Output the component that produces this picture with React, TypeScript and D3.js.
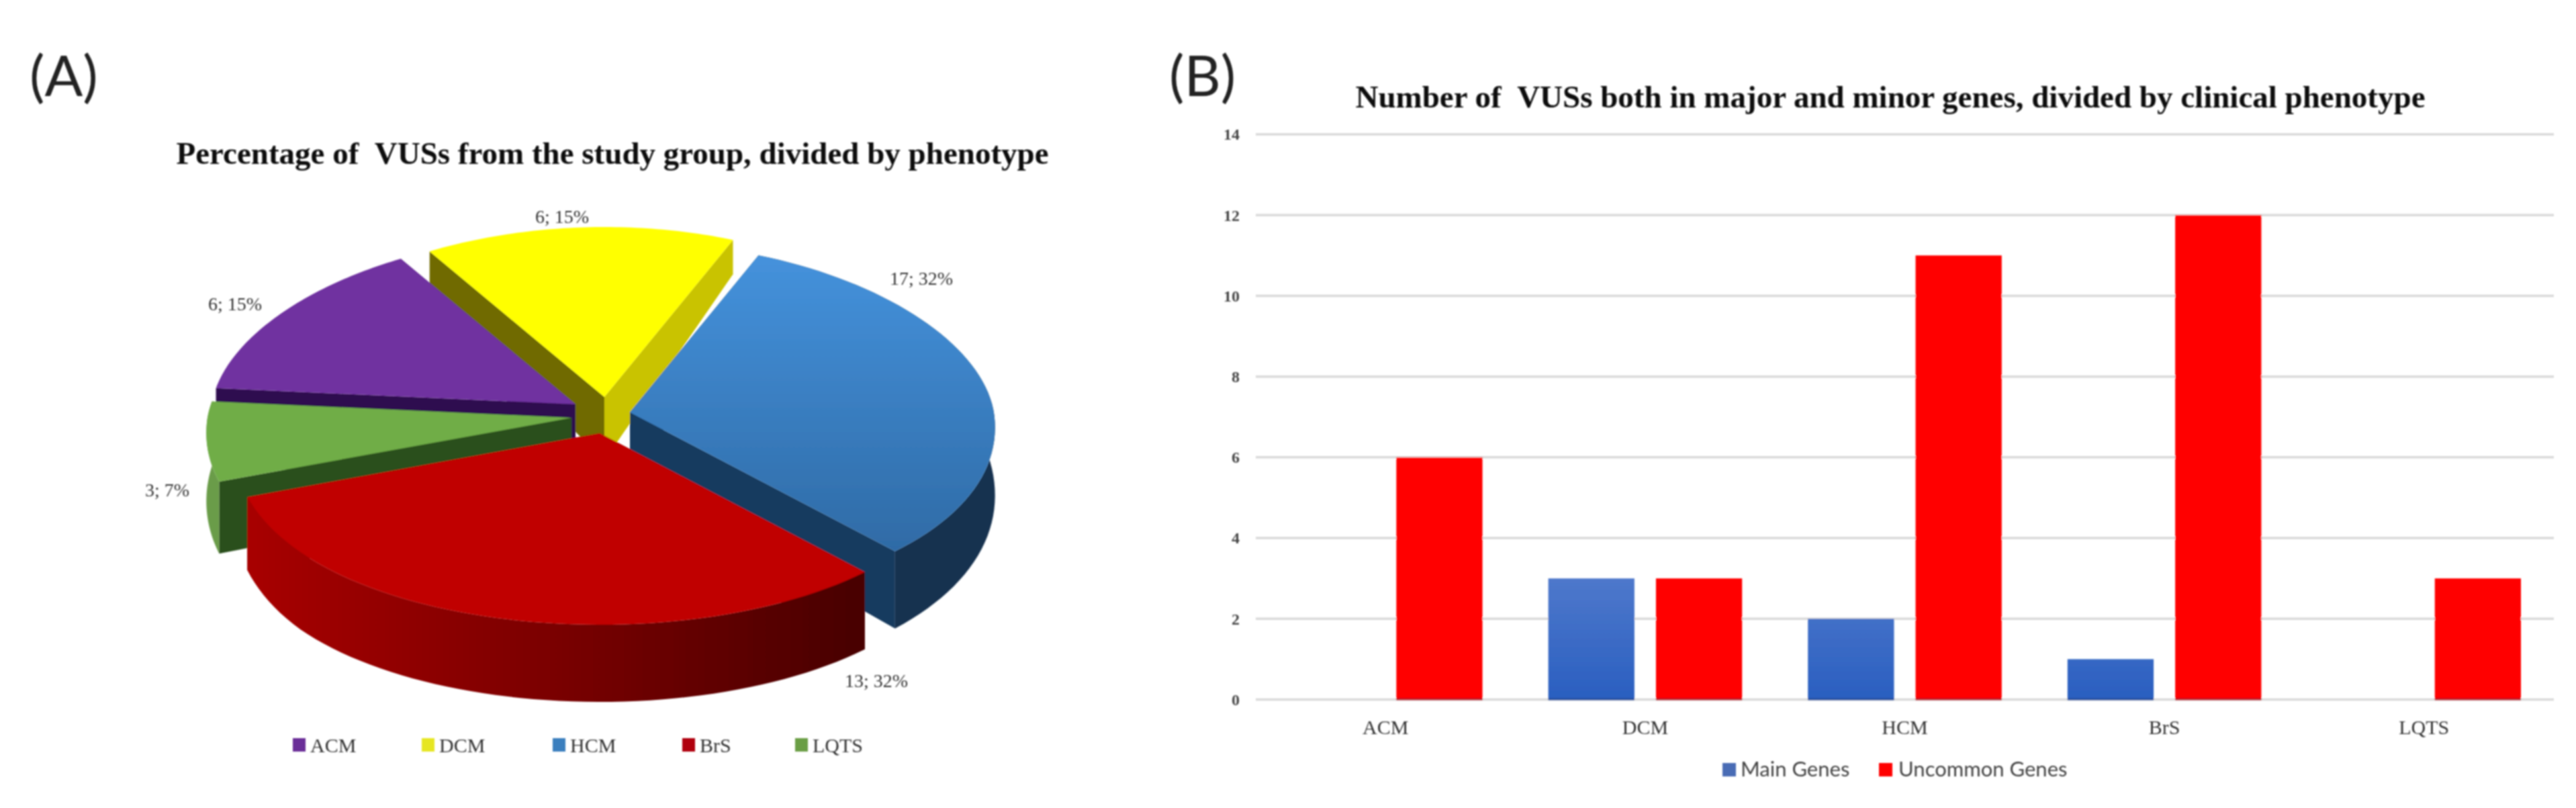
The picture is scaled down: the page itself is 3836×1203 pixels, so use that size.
import React from 'react';
import * as d3 from 'd3';

const WIDTH = 3836;
const HEIGHT = 1203;

// Panel A data
const phenotypes = ['ACM', 'DCM', 'HCM', 'BrS', 'LQTS'];
const vusCounts = [6, 6, 17, 13, 3];
const vusPercents = [15, 15, 32, 32, 7];

// Panel B data
const barCategories = ['ACM', 'DCM', 'HCM', 'BrS', 'LQTS'];
const barSeries = ['Main Genes', 'Uncommon Genes'];
const mainGenes = [0, 3, 2, 1, 0];
const uncommonGenes = [6, 3, 11, 12, 3];
const yTicks = [0, 2, 4, 6, 8, 10, 12, 14];

const serif = '"Liberation Serif", serif';
const sans = 'Lato, sans-serif';

// Look of each exploded slice, same order as phenotypes
const sliceStyle: Record<string, any> = {
  ACM: { ax: 857, ay: 602, top: '#7030a0', start: '#2f0f50', end: '#2f0f50', outer: 'none', swatch: '#6a2f98', label: [350, 452] },
  DCM: { ax: 900, ay: 591, top: '#ffff00', start: '#6f6a00', end: '#c9c300', outer: 'none', swatch: '#e6e620', label: [837, 322] },
  HCM: { ax: 938, ay: 614, top: 'url(#blueTop)', start: '#173a5e', end: '#173a5e', outer: '#17324f', swatch: '#3b7fbe', label: [1372, 414] },
  BrS: { ax: 893, ay: 645, top: '#c00000', start: '#700000', end: '#700000', outer: 'url(#redWall)', swatch: '#b00010', label: [1305, 1013] },
  LQTS: { ax: 851, ay: 622, top: '#70ad47', start: '#2a4f1f', end: '#2a4f1f', outer: '#6a9c48', swatch: '#6a9e45', label: [249, 729] }
};
const legendSwatchX = [436, 628, 823, 1016, 1184];
const drawOrder = ['DCM', 'HCM', 'ACM', 'LQTS', 'BrS'];

const RX = 542;
const RY_BACK = 253;
const RY_FRONT = 285;
const PERSPECTIVE = 0.08;

// wall gets deeper towards the viewer
const wallDepth = d3.scaleLinear().domain([340, 620, 820]).range([48, 100, 115]).clamp(true);

const slices = d3.pie<number>()
  .sort(null)
  .startAngle((-84.5 * Math.PI) / 180)
  .endAngle(((360 - 84.5) * Math.PI) / 180)(vusPercents);

const line = d3.line();

type Pt = [number, number];

const drop = (p: Pt): Pt => [p[0], p[1] + wallDepth(p[1])];

function rimPoints(name: string, a0: number, a1: number): Pt[] {
  const s = sliceStyle[name];
  return d3.range(61).map(i => {
    const a = a0 + ((a1 - a0) * i) / 60;
    const c = Math.cos(a);
    const rx = RX * (1 - PERSPECTIVE * c);
    const ry = c > 0 ? RY_BACK : RY_FRONT;
    return [s.ax + rx * Math.sin(a), s.ay - ry * c] as Pt;
  });
}

const PieSlice = ({ name, a0, a1 }: { name: string; a0: number; a1: number }) => {
  const s = sliceStyle[name];
  const apex: Pt = [s.ax, s.ay];
  const rim = rimPoints(name, a0, a1);
  const first = rim[0];
  const last = rim[rim.length - 1];
  const wall = (a: Pt, b: Pt) => line([a, b, drop(b), drop(a)]) + 'Z';
  return (
    <g>
      <path d={wall(apex, first)} fill={s.start} />
      <path d={wall(apex, last)} fill={s.end} />
      <path d={line([...rim, ...rim.map(drop).reverse()]) + 'Z'} fill={s.outer} />
      <path d={line([apex, ...rim]) + 'Z'} fill={s.top} />
    </g>
  );
};

const PiePanel = () => (
  <g>
    <text x={44} y={143} fontFamily={sans} fontSize={84} fill="#222">(A)</text>
    <text x={912} y={244} textAnchor="middle" fontFamily={serif} fontWeight="bold" fontSize={47} fill="#111">
      {'Percentage of \u00a0VUSs from the study group, divided by phenotype'}
    </text>
    {drawOrder.map(name => {
      const i = phenotypes.indexOf(name);
      return <PieSlice key={name} name={name} a0={slices[i].startAngle} a1={slices[i].endAngle} />;
    })}
    {phenotypes.map((name, i) => {
      const [lx, ly] = sliceStyle[name].label;
      return (
        <text key={name} x={lx} y={ly} dy="0.35em" textAnchor="middle" fontFamily={serif} fontSize={28} fill="#333">
          {`${vusCounts[i]}; ${vusPercents[i]}%`}
        </text>
      );
    })}
    {phenotypes.map((name, i) => (
      <g key={name}>
        <rect x={legendSwatchX[i]} y={1099} width={19} height={20} fill={sliceStyle[name].swatch} />
        <text x={legendSwatchX[i] + 26} y={1109} dy="0.35em" fontFamily={serif} fontSize={30} fill="#333">{name}</text>
      </g>
    ))}
  </g>
);

const BarPanel = () => {
  const x0 = d3.scaleBand<string>().domain(barCategories).range([1870, 3803]);
  const x1 = d3.scaleBand<string>().domain(barSeries).range([49, 337.6]).paddingInner(0.2);
  const y = d3.scaleLinear().domain([0, 14]).range([1041.5, 200]);
  const values = [mainGenes, uncommonGenes];
  const fills = ['url(#blueBar)', '#ff0000'];
  const baseFills = ['#24509e', '#b81020'];
  return (
    <g>
      <text x={1741} y={143} fontFamily={sans} fontSize={84} fill="#222">(B)</text>
      <text x={2815} y={160} textAnchor="middle" fontFamily={serif} fontWeight="bold" fontSize={47} fill="#111">
        {'Number of \u00a0VUSs both in major and minor genes, divided by clinical phenotype'}
      </text>
      {yTicks.map(t => (
        <g key={t}>
          <line x1={1870} x2={3803} y1={y(t)} y2={y(t)} stroke="#d9d9d9" strokeWidth={3.5} />
          <text x={1846} y={y(t)} dy="0.35em" textAnchor="end" fontFamily={serif} fontWeight="bold" fontSize={24} fill="#444">{t}</text>
        </g>
      ))}
      {barCategories.map((c, i) => (
        <g key={c}>
          {barSeries.map((s, j) => (
            values[j][i] > 0 && (
              <g key={s}>
                <rect
                  x={x0(c)! + x1(s)!}
                  y={y(values[j][i])}
                  width={x1.bandwidth()}
                  height={y(0) - y(values[j][i])}
                  fill={fills[j]}
                />
                <rect x={x0(c)! + x1(s)!} y={y(0) - 2} width={x1.bandwidth()} height={3} fill={baseFills[j]} />
              </g>
            )
          ))}
          <text x={x0(c)! + x0.bandwidth() / 2} y={1082} dy="0.35em" textAnchor="middle" fontFamily={serif} fontSize={30} fill="#333">{c}</text>
        </g>
      ))}
      <rect x={2565} y={1136} width={20} height={20} fill="#4a6cb5" />
      <text x={2592} y={1145} dy="0.35em" fontFamily={sans} fontSize={31} fill="#444">{barSeries[0]}</text>
      <rect x={2798} y={1136} width={20} height={20} fill="#ff0000" />
      <text x={2827} y={1145} dy="0.35em" fontFamily={sans} fontSize={31} fill="#444">{barSeries[1]}</text>
    </g>
  );
};

export default function App() {
  return (
    <svg
      width={WIDTH}
      height={HEIGHT}
      viewBox={`0 0 ${WIDTH} ${HEIGHT}`}
      style={{ position: 'absolute', left: 0, top: 0, background: '#fff' }}
    >
      <defs>
        <linearGradient id="blueTop" x1="0" y1="0" x2="0" y2="1">
          <stop offset="0" stopColor="#4592dc" />
          <stop offset="1" stopColor="#2f6ba6" />
        </linearGradient>
        <linearGradient id="redWall" gradientUnits="userSpaceOnUse" x1="367" y1="0" x2="1283" y2="0">
          <stop offset="0" stopColor="#a80000" />
          <stop offset="0.5" stopColor="#7a0000" />
          <stop offset="1" stopColor="#480000" />
        </linearGradient>
        <linearGradient id="blueBar" gradientUnits="userSpaceOnUse" x1="0" y1="680" x2="0" y2="1041">
          <stop offset="0.05" stopColor="#6f8fd6" />
          <stop offset="1" stopColor="#2a5fc0" />
        </linearGradient>
        <filter id="soft" x="-2%" y="-2%" width="104%" height="104%">
          <feGaussianBlur stdDeviation="1" />
        </filter>
      </defs>
      <g filter="url(#soft)">
        <PiePanel />
        <BarPanel />
      </g>
    </svg>
  );
}
